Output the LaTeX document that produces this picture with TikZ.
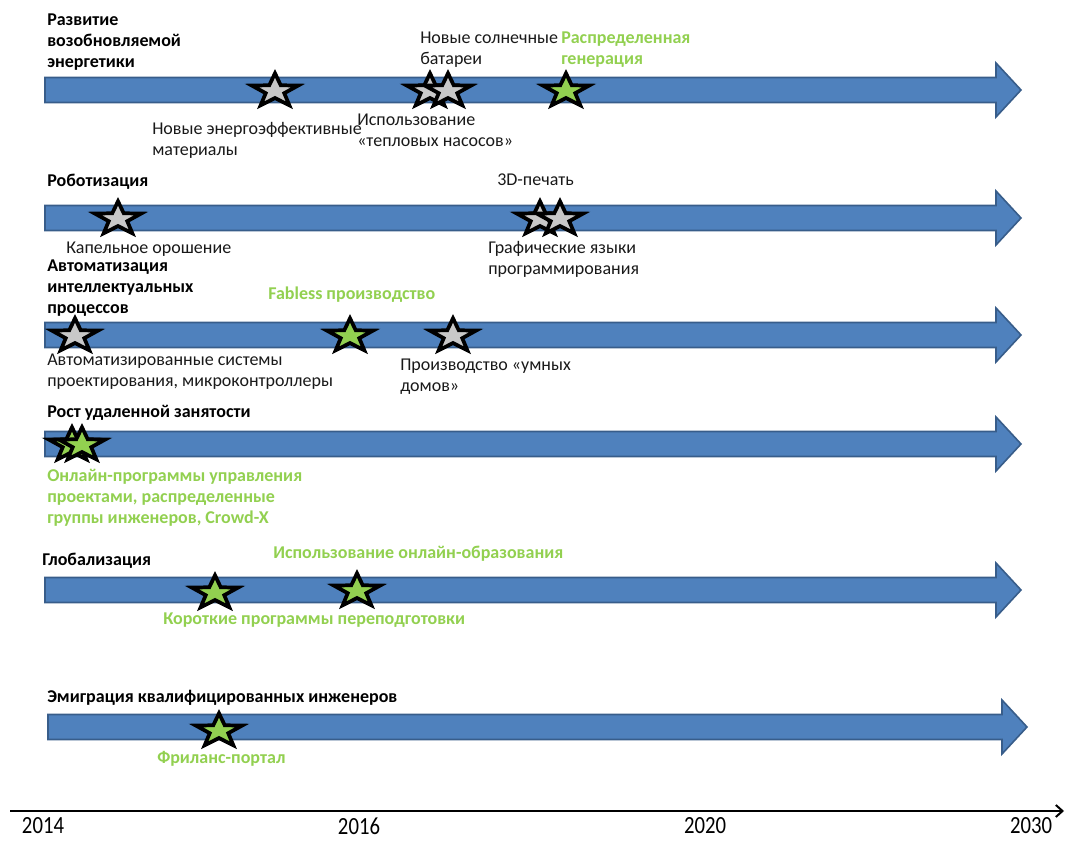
\documentclass[tikz,border=0pt]{standalone}
\usepackage{fontspec}
\setmainfont{Carlito}
\usetikzlibrary{positioning,shapes.geometric,arrows.meta}
\definecolor{barblue}{HTML}{4F81BD}
\definecolor{barline}{HTML}{385D8A}
\definecolor{newgreen}{HTML}{92D050}
\definecolor{stargray}{HTML}{C8C8C8}
\newcommand{\mainfs}{\fontsize{13.5}{15.75}\selectfont}
\newcommand{\yearfs}{\fontsize{18.5}{21}\selectfont}

\begin{document}
\begin{tikzpicture}[x=0.75pt,y=-0.75pt,
trendbar/.style={
  fill=barblue,
  draw=barline,
  line width=1.2pt},
gstar/.style={
  star, star points=5, star point ratio=2.5,
  minimum size=26.5pt, inner sep=0pt,
  draw=black, line width=2.8pt, fill=stargray,
  xscale=1.38, transform shape},
nstar/.style={gstar, fill=newgreen},
trend/.style={anchor=north west, inner sep=0pt, align=left, font=\bfseries\mainfs, text=black},
event/.style={anchor=north west, inner sep=0pt, align=left, font=\mainfs, text=black!90},
newevent/.style={event, font=\bfseries\mainfs, text=newgreen},
year/.style={font=\yearfs, inner sep=0pt, xscale=0.84, transform shape}
]
\useasboundingbox (0,0) rectangle (1065,841);
% trend arrows
\foreach \y/\xs/\xe in {90/45/1021, 218/45/1021, 335/45/1021, 444/45/1021, 590/45/1021, 727/48/1027}
  \draw[trendbar] (\xs,\y-12.5) -- (\xe-25,\y-12.5) -- (\xe-25,\y-27) -- (\xe,\y)
    -- (\xe-25,\y+27) -- (\xe-25,\y+12.5) -- (\xs,\y+12.5) -- cycle;
% stars
\foreach \Nodo/\x/\y in {s1a/275/91, s1b/430/91, s1c/448/91, s2a/118/219, s2b/540/219, s2c/560/219, s3a/75/336, s3c/453/336}
  \node[gstar] (\Nodo) at (\x,\y) {};
\foreach \Nodo/\x/\y in {s1d/566/91, s3b/350/336, s4a/72/445, s4b/82/445, s5a/215/593, s5b/357/591, s6a/219/731}
  \node[nstar] (\Nodo) at (\x,\y) {};
% trends
\node[trend] (t1) at (47,14) {Развитие\\возобновляемой\\энергетики};
\node[trend] (t2) at (47,174) {Роботизация};
\node[trend] (t3) at (47,260) {Автоматизация\\интеллектуальных\\процессов};
\node[trend] (t4) at (47,405) {Рост удаленной занятости};
\node[trend] (t5) at (42,553) {Глобализация};
\node[trend] (t6) at (47,690) {Эмиграция квалифицированных инженеров};
% events
\node[event] (e1a) at (152,122) {Новые энергоэффективные\\материалы};
\node[event] (e1b) at (420,32) {Новые солнечные\\батареи};
\node[newevent] (e1c) at (561,32) {Распределенная\\генерация};
\node[event] (e1d) at (357,114) {Использование\\«тепловых насосов»};
\node[event] (e2a) at (497,174) {3D-печать};
\node[event] (e2b) at (66,242) {Капельное орошение};
\node[event] (e2c) at (488,241) {Графические языки\\программирования};
\node[newevent] (e3a) at (268,287) {Fabless производство};
\node[event] (e3b) at (47,354) {Автоматизированные системы\\проектирования, микроконтроллеры};
\node[event] (e3c) at (400,359) {Производство «умных\\домов»};
\node[newevent] (e4a) at (47,469) {Онлайн-программы управления\\проектами, распределенные\\группы инженеров, Crowd-X};
\node[newevent] (e5a) at (273,546) {Использование онлайн-образования};
\node[newevent] (e5b) at (163,613) {Короткие программы переподготовки};
\node[newevent] (e6a) at (157,751) {Фриланс-портал};
% time axis
\coordinate (axL) at (10,811);
\coordinate (axR) at (1064,811);
\draw[line width=1.5pt, -{Straight Barb[length=5pt,width=9pt]}] (axL) -- (axR);
\node[year] (y2014) at (43,826) {2014};
\node[year] (y2016) at (359,826) {2016};
\node[year] (y2020) at (705,826) {2020};
\node[year] (y2030) at (1031,826) {2030};
\end{tikzpicture}
\end{document}
